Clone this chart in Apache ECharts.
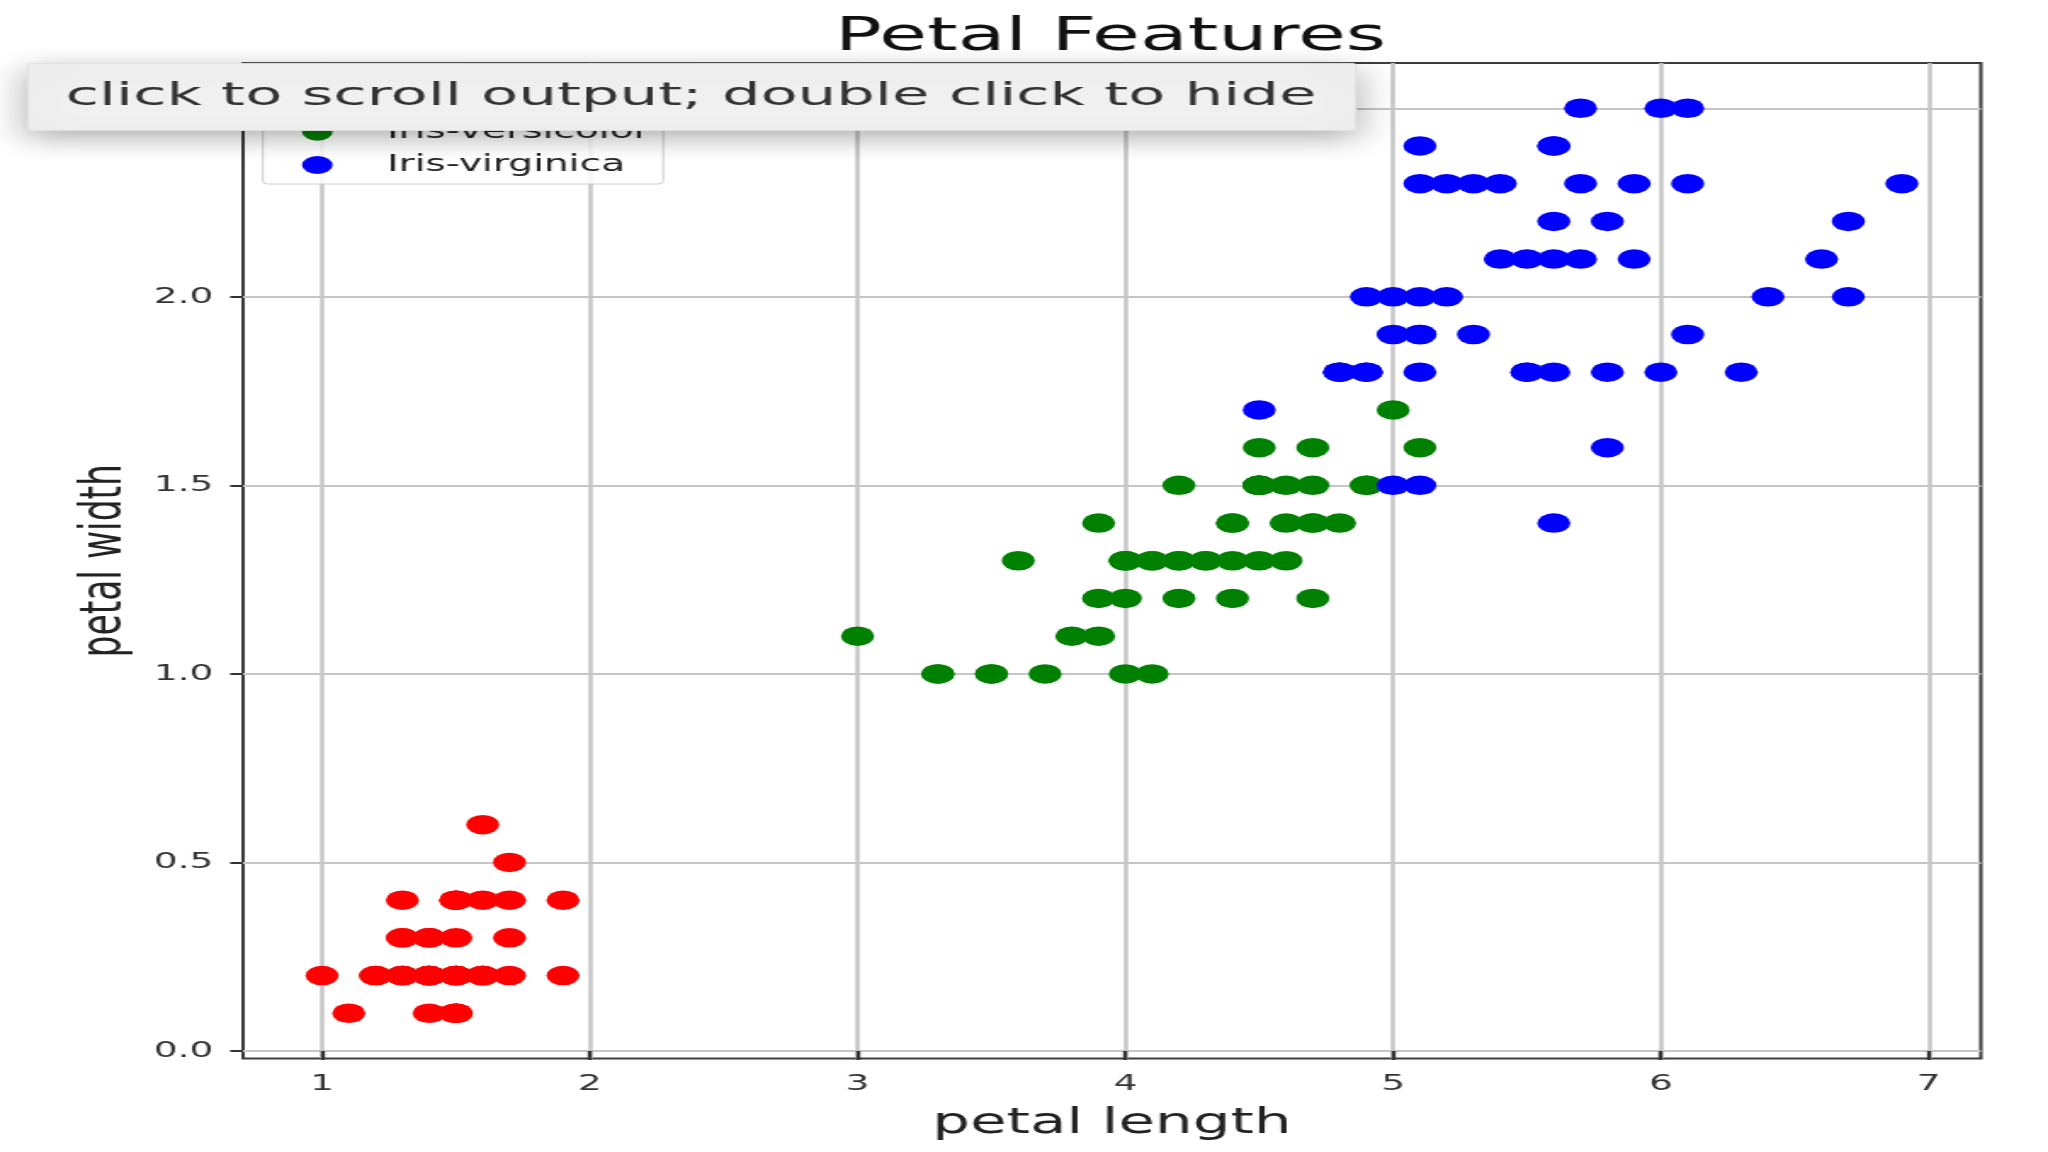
<!DOCTYPE html>
<html>
<head>
<meta charset="utf-8">
<script src="https://cdn.jsdelivr.net/npm/echarts@6/dist/echarts.min.js"></script>
<style>
html, body { margin: 0; padding: 0; background: #ffffff; overflow: hidden; }
#stage { width: 2048px; height: 1152px; overflow: hidden; position: relative; background: #ffffff; }
#chart { position: absolute; left: 0; top: 0; width: 1205px; height: 1152px; transform: scaleX(1.69959); transform-origin: 0 0; }
</style>
</head>
<body>
<div id="stage"><div id="chart"></div></div>
<script>
// ---- data ----
const speciesNames = ['Iris-setosa', 'Iris-versicolor', 'Iris-virginica'];
const speciesColors = ['#ff0000', '#008000', '#0000ff'];

const setosaPetalLength = [1.4,1.4,1.3,1.5,1.4,1.7,1.4,1.5,1.4,1.5,1.5,1.6,1.4,1.1,1.2,1.5,1.3,1.4,1.7,1.5,1.7,1.5,1.0,1.7,1.9,1.6,1.6,1.5,1.4,1.6,1.6,1.5,1.5,1.4,1.5,1.2,1.3,1.5,1.3,1.5,1.3,1.3,1.3,1.6,1.9,1.4,1.6,1.4,1.5,1.4];
const setosaPetalWidth  = [0.2,0.2,0.2,0.2,0.2,0.4,0.3,0.2,0.2,0.1,0.2,0.2,0.1,0.1,0.2,0.4,0.4,0.3,0.3,0.3,0.2,0.4,0.2,0.5,0.2,0.2,0.4,0.2,0.2,0.2,0.2,0.4,0.1,0.2,0.1,0.2,0.2,0.1,0.2,0.2,0.3,0.3,0.2,0.6,0.4,0.3,0.2,0.2,0.2,0.2];

const versicolorPetalLength = [4.7,4.5,4.9,4.0,4.6,4.5,4.7,3.3,4.6,3.9,3.5,4.2,4.0,4.7,3.6,4.4,4.5,4.1,4.5,3.9,4.8,4.0,4.9,4.7,4.3,4.4,4.8,5.0,4.5,3.5,3.8,3.7,3.9,5.1,4.5,4.5,4.7,4.4,4.1,4.0,4.4,4.6,4.0,3.3,4.2,4.2,4.2,4.3,3.0,4.1];
const versicolorPetalWidth  = [1.4,1.5,1.5,1.3,1.5,1.3,1.6,1.0,1.3,1.4,1.0,1.5,1.0,1.4,1.3,1.4,1.5,1.0,1.5,1.1,1.8,1.3,1.5,1.2,1.3,1.4,1.4,1.7,1.5,1.0,1.1,1.0,1.2,1.6,1.5,1.6,1.5,1.3,1.3,1.3,1.2,1.4,1.2,1.0,1.3,1.2,1.3,1.3,1.1,1.3];

const virginicaPetalLength = [6.0,5.1,5.9,5.6,5.8,6.6,4.5,6.3,5.8,6.1,5.1,5.3,5.5,5.0,5.1,5.3,5.5,6.7,6.9,5.0,5.7,4.9,6.7,4.9,5.7,6.0,4.8,4.9,5.6,5.8,6.1,6.4,5.6,5.1,5.6,6.1,5.6,5.5,4.8,5.4,5.6,5.1,5.1,5.9,5.7,5.2,5.0,5.2,5.4,5.1];
const virginicaPetalWidth  = [2.5,1.9,2.1,1.8,2.2,2.1,1.7,1.8,1.8,2.5,2.0,1.9,2.1,2.0,2.4,2.3,1.8,2.2,2.3,1.5,2.3,2.0,2.0,1.8,2.1,1.8,1.8,1.8,2.1,1.6,1.9,2.0,2.2,1.5,1.4,2.3,2.4,1.8,1.8,2.1,2.4,2.3,1.9,2.3,2.5,2.3,1.9,2.0,2.3,1.8];

const xTickValues = [1, 2, 3, 4, 5, 6, 7];
const yTickValues = [0, 0.5, 1, 1.5, 2, 2.5];

const titleText = 'Petal Features';
const xAxisName = 'petal length';
const yAxisName = 'petal width';
const overlayText = 'click to scroll output; double click to hide';

// ---- build ----
const FONT = 'DejaVu Sans';
const zip = (a, b) => a.map((v, i) => [v, b[i]]);
const speciesData = [
  zip(setosaPetalLength, setosaPetalWidth),
  zip(versicolorPetalLength, versicolorPetalWidth),
  zip(virginicaPetalLength, virginicaPetalWidth)
];

const chart = echarts.init(document.getElementById('chart'));
const option = {
  animation: false,
  backgroundColor: '#ffffff',
  textStyle: { fontFamily: FONT },
  title: {
    text: titleText,
    left: 653.5, top: 15.5, textAlign: 'center', padding: 0,
    textStyle: { fontFamily: FONT, fontSize: 45.8, fontWeight: 'normal', color: '#111111' }
  },
  legend: {
    orient: 'vertical', left: 154.7, top: 78.4,
    padding: [8, 8, 7, 23],
    itemWidth: 50, itemHeight: 18, itemGap: 9.3,
    backgroundColor: 'rgba(255,255,255,0.85)',
    borderColor: '#cccccc', borderWidth: 1, borderRadius: 3,
    selectedMode: false,
    textStyle: { fontFamily: FONT, fontSize: 23, lineHeight: 24, color: '#222222', padding: [0, 0, 0, 11] },
    data: speciesNames.map((n, i) => ({ name: n, icon: 'circle', itemStyle: { color: speciesColors[i] } }))
  },
  grid: {
    left: 143, right: 39.5, top: 63, bottom: 93.5,
    show: true, borderColor: '#3c3c3c', borderWidth: 2,
    backgroundColor: 'transparent', containLabel: false, outerBoundsMode: 'none'
  },
  xAxis: {
    type: 'value', min: 0.705, max: 7.195,
    name: xAxisName, nameLocation: 'middle', nameGap: 47.6,
    nameTextStyle: { fontFamily: FONT, fontSize: 35, color: '#222222' },
    axisLine: { show: false },
    axisTick: { show: true, customValues: xTickValues, length: 9, lineStyle: { color: '#333333', width: 2.4 } },
    axisLabel: { customValues: xTickValues, margin: 14.5, fontFamily: FONT, fontSize: 22, color: '#333333',
      formatter: v => String(v) },
    splitLine: { show: true, lineStyle: { color: '#c6c6c6', width: 2.5 } }
  },
  yAxis: {
    type: 'value', min: -0.02, max: 2.62,
    name: yAxisName, nameLocation: 'middle', nameGap: 63, nameRotate: 90,
    nameTextStyle: { fontFamily: FONT, fontSize: 34.5, color: '#222222' },
    axisLine: { show: false },
    axisTick: { show: true, customValues: yTickValues, length: 7.6, lineStyle: { color: '#333333', width: 2 } },
    axisLabel: { customValues: yTickValues, margin: 17.5, fontFamily: FONT, fontSize: 22, color: '#333333',
      formatter: v => Number(v).toFixed(1) },
    splitLine: { show: true, lineStyle: { color: '#c6c6c6', width: 1.8 } }
  },
  series: speciesNames.map((n, i) => ({
    name: n, type: 'scatter', data: speciesData[i],
    symbol: 'circle', symbolSize: 19.5,
    itemStyle: { color: speciesColors[i], opacity: 1 },
    emphasis: { disabled: true }, z: 2 + i
  })),
  graphic: [
    { type: 'rect', z: 100, zlevel: 0,
      shape: { x: 16.3, y: 63.4, width: 781.5, height: 67, r: 2 },
      style: { fill: '#f0f0f0', stroke: '#e0e0e0', lineWidth: 1,
        shadowBlur: 24, shadowOffsetY: 7, shadowColor: 'rgba(0,0,0,0.32)' } },
    { type: 'text', z: 101, zlevel: 0, x: 38.6, y: 96.9, scaleX: 1.12,
      style: { text: overlayText, fontFamily: FONT, fontSize: 32, fill: '#333333',
        align: 'left', verticalAlign: 'middle' } }
  ]
};
chart.setOption(option);
</script>
</body>
</html>
